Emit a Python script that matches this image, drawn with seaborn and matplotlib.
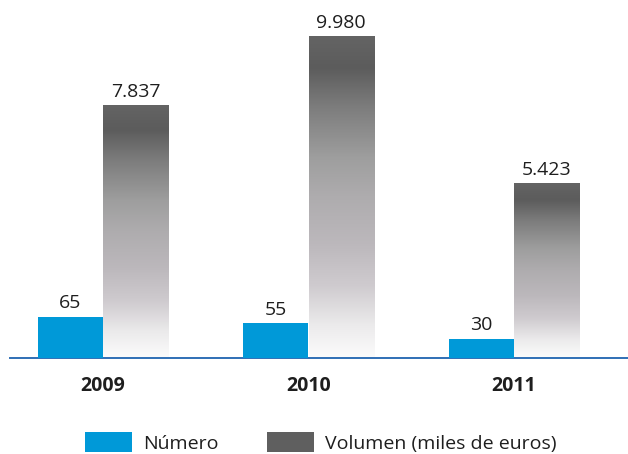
import numpy as np
import pandas as pd
import matplotlib
matplotlib.use("Agg")
import matplotlib.pyplot as plt
from matplotlib.colors import LinearSegmentedColormap
from matplotlib.patches import Patch
import seaborn as sns

years = ["2009", "2010", "2011"]
numero = [65, 55, 30]
volumen = [7837, 9980, 5423]
series_names = ["Número", "Volumen (miles de euros)"]

BLUE = "#0099d8"
GREY = "#5f5f5f"
AXIS_BLUE = "#2f6fb5"
TEXT = "#1e1e1e"

sns.set_theme(style="white")
plt.rcParams["font.family"] = ["Open Sans", "DejaVu Sans"]

df = pd.DataFrame({
    "year": years * 2,
    "value": numero + volumen,
    "serie": [series_names[0]] * 3 + [series_names[1]] * 3,
})

fig = plt.figure(figsize=(6.28, 4.54), dpi=100)
W, H = 628, 454
base_px = 357.5
top_px = 10
ax = fig.add_axes([10 / W, (H - base_px) / H, 618 / W, (base_px - top_px) / H])
ax_num = ax.twinx()

bar_w = 0.633
sns.barplot(data=df[df.serie == series_names[1]], x="year", y="value", hue="serie",
            hue_order=series_names, order=years, palette=[BLUE, GREY], dodge=True,
            width=bar_w, errorbar=None, legend=False, ax=ax, saturation=1, linewidth=0)
sns.barplot(data=df[df.serie == series_names[0]], x="year", y="value", hue="serie",
            hue_order=series_names, order=years, palette=[BLUE, GREY], dodge=True,
            width=bar_w, errorbar=None, legend=False, ax=ax_num, saturation=1, linewidth=0)

px_per_vol = 321.5 / 9980
ax.set_ylim(0, (base_px - top_px) / px_per_vol)
px_per_num = 0.63
ax_num.set_ylim(0, (base_px - top_px) / px_per_num)
xl = (-93 / 205.5, (628 - 103) / 205.5)
ax.set_xlim(*xl)
ax_num.set_xlim(*xl)

# gradient fill for volume bars
cmap = LinearSegmentedColormap.from_list("vol", [
    (0.0, "#fbfbfb"), (0.10, "#ebeaeb"), (0.22, "#cfcbcf"), (0.35, "#bcb8bc"),
    (0.5, "#aeacae"), (0.62, "#9e9e9e"), (0.78, "#7c7c7c"), (0.9, "#5c5c5c"),
    (1.0, "#646464")])
grad = np.linspace(0, 1, 256).reshape(-1, 1)
for bar in ax.patches:
    h = bar.get_height()
    if not np.isfinite(h) or h <= 0:
        continue
    x0 = bar.get_x()
    w = bar.get_width()
    im = ax.imshow(grad, cmap=cmap, origin="lower", aspect="auto",
                   extent=(x0, x0 + w, 0, h), zorder=bar.get_zorder())
    im.set_clip_path(bar)
    bar.set_facecolor("none")
    bar.set_edgecolor("none")
ax.set_xlim(*xl)
ax.set_ylim(0, (base_px - top_px) / px_per_vol)

fs = 14
fmt = lambda v: f"{v:,.0f}".replace(",", ".")
for c in ax.containers:
    ax.bar_label(c, fmt=fmt, padding=3, fontsize=fs, color=TEXT)
for c in ax_num.containers:
    ax_num.bar_label(c, fmt=fmt, padding=3, fontsize=fs, color=TEXT)

for a in (ax, ax_num):
    a.set_xlabel("")
    a.set_ylabel("")
    a.set_yticks([])
    for s in ("left", "right", "top", "bottom"):
        a.spines[s].set_visible(False)
    a.patch.set_visible(False)
ax.spines["bottom"].set_visible(True)
ax.spines["bottom"].set_color(AXIS_BLUE)
ax.spines["bottom"].set_linewidth(1.4)
ax.tick_params(axis="x", length=0, pad=13.5, labelsize=fs, labelcolor=TEXT)
for lbl in ax.get_xticklabels():
    lbl.set_fontweight("bold")
ax_num.tick_params(axis="x", length=0, labelbottom=False)

handles = [Patch(facecolor=BLUE, edgecolor="none"), Patch(facecolor=GREY, edgecolor="none")]
fig.legend(handles, series_names, loc="lower left", bbox_to_anchor=(85 / W, 1 / H),
           ncol=2, frameon=False, fontsize=fs, handlelength=2.42, handleheight=1.2,
           handletextpad=0.57, columnspacing=2.5, borderpad=0, borderaxespad=0,
           labelcolor=TEXT)

fig.savefig("out.png", dpi=100)
